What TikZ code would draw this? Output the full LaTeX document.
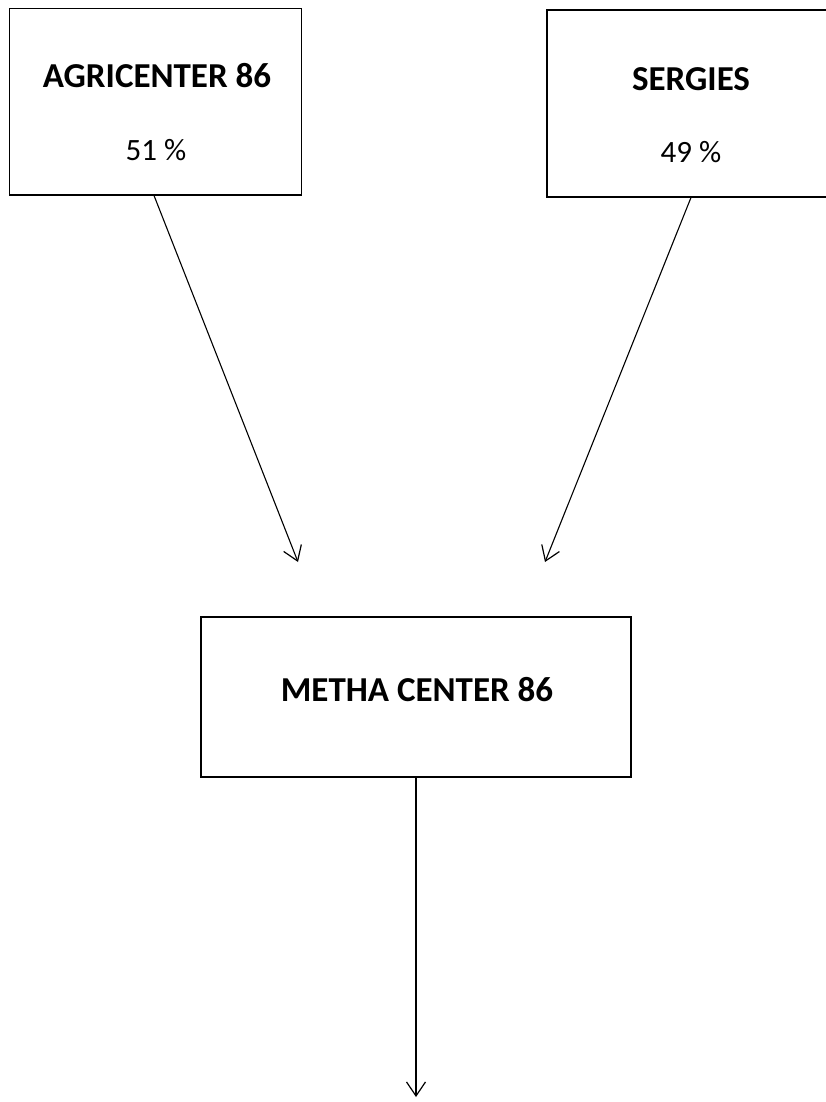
\documentclass[tikz,border=0pt]{standalone}
\usepackage{fontspec}
\setmainfont{Carlito}
\usetikzlibrary{arrows.meta}
\begin{document}
\begin{tikzpicture}[x=1pt,y=-1pt,
  box/.style={draw=black, line width=1.4pt, minimum width=#1, inner sep=0pt},
  title/.style={font=\fontsize{35}{40}\selectfont\bfseries, inner sep=0pt},
  pct/.style={font=\fontsize{31}{36}\selectfont, inner sep=0pt},
  conn/.style={line width=1.1pt, -{Straight Barb[length=14pt,width=19pt,line width=1.2pt]}}
]
\useasboundingbox[fill=white] (0,0) rectangle (825,1102);
% boxes
\node[box=292pt, minimum height=186.6pt] (agri) at (155.5,101.7) {};
\node[box=290pt, minimum height=187pt] (serg) at (692,103.5) {};
\node[box=430pt, minimum height=160pt] (metha) at (416,697) {};
% texts
\node[title] (agriT) at (157,76) {AGRICENTER 86};
\node[pct] (agriP) at (156,150) {51 \%};
\node[title] (sergT) at (691,79) {SERGIES};
\node[pct] (sergP) at (691,152) {49 \%};
\node[title] (methaT) at (417,690) {METHA CENTER 86};
% arrow ends
\coordinate (tipA) at (298,562);
\coordinate (tipS) at (545,562);
\coordinate (tipM) at (416,1097);
\coordinate (startA) at (154,195.5);
\coordinate (startS) at (691,197.5);
\draw[conn] (startA) -- (tipA);
\draw[conn] (startS) -- (tipS);
\draw[conn] (metha.south) -- (tipM);
\end{tikzpicture}
\end{document}
